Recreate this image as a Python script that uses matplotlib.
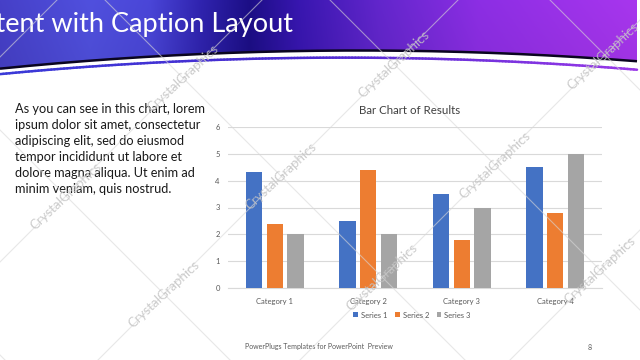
import matplotlib
matplotlib.use('Agg')
import matplotlib.pyplot as plt
import numpy as np
from matplotlib.patches import Polygon
from matplotlib.patches import Patch

# ---------------- data ----------------
categories = ['Category 1', 'Category 2', 'Category 3', 'Category 4']
series_names = ['Series 1', 'Series 2', 'Series 3']
series1 = [4.3, 2.5, 3.5, 4.5]
series2 = [2.4, 4.4, 1.8, 2.8]
series3 = [2.0, 2.0, 3.0, 5.0]
y_ticks = [0, 1, 2, 3, 4, 5, 6]
bar_colors = ['#4472C4', '#ED7D31', '#A5A5A5']
chart_title = 'Bar Chart of Results'
slide_title = 'Content with Caption Layout'
body_lines = ['As you can see in this chart, lorem',
              'ipsum dolor sit amet, consectetur',
              'adipiscing elit, sed do eiusmod',
              'tempor incididunt ut labore et',
              'dolore magna aliqua. Ut enim ad',
              'minim veniam, quis nostrud.']
footer_text = 'PowerPlugs Templates for PowerPoint  Preview'
page_number = '8'
watermark = 'CrystalGraphics'

FONT = 'Lato'
W, H = 640, 360

fig = plt.figure(figsize=(6.4, 3.6), dpi=100)
fig.patch.set_facecolor('white')

# background axes in pixel coordinates
bg = fig.add_axes([0, 0, 1, 1])
bg.set_xlim(0, W)
bg.set_ylim(H, 0)
bg.axis('off')

# ---------------- banner ----------------
def curve(x):
    return 50.5 + 1.4e-4 * (x - 360.0) ** 2

stops_x = [0, 90, 150, 200, 250, 300, 380, 480, 640]
stops_c = ['#4640c8', '#5050de', '#4a46d8', '#3024b0', '#1c0e86', '#3816b0', '#6226cc', '#8c2ee4', '#a836ee']
rgb = np.array([matplotlib.colors.to_rgb(c) for c in stops_c])
gx = np.arange(W)
grad = np.zeros((80, W, 3))
for k in range(3):
    grad[:, :, k] = np.interp(gx, stops_x, rgb[:, k])[None, :]
vy = np.linspace(1.0, 0.94, 80)[:, None, None]
grad = np.clip(grad * vy, 0, 1)
im = bg.imshow(grad, extent=(0, 637, 80, 0), aspect='auto', zorder=1, interpolation='bilinear')
xs = np.linspace(0, 637, 200)
poly = Polygon(np.vstack([[[0, 0], [637, 0]], np.column_stack([xs[::-1], curve(xs[::-1])])]),
               closed=True, transform=bg.transData, facecolor='none', edgecolor='none')
bg.add_patch(poly)
im.set_clip_path(poly)
bg.plot(xs, curve(xs), color='#0a0520', lw=1.8, zorder=2, solid_capstyle='butt')
off = curve(xs) + 5.5 + 3.0 * xs / 640
seg_cols = np.array([np.interp(xs, [0, 300, 640], [matplotlib.colors.to_rgb(c)[k] for c in ['#3a3ad8', '#4a2ad0', '#9a38e8']]) for k in range(3)]).T
for i in range(len(xs) - 1):
    bg.plot(xs[i:i + 2], off[i:i + 2], color=seg_cols[i], lw=1.8, zorder=2, solid_capstyle='round')

bg.text(293, 32, slide_title, ha='right', va='baseline', color='white', fontsize=19.5, family=FONT, zorder=3)

# ---------------- body text ----------------
for i, line in enumerate(body_lines):
    bg.text(15, 109 + 16 * i, line, ha='left', va='center', fontsize=9.2, family=FONT, color='#1a1a1a')

# footer
bg.text(245, 347, footer_text, ha='left', va='center', fontsize=5, family=FONT, color='#595959')
bg.text(588, 347, page_number, ha='left', va='center', fontsize=5, family=FONT, color='#595959')

# ---------------- chart ----------------
left, right, top, bottom = 228, 602, 126.7, 288.3
ax = fig.add_axes([left / W, (H - bottom) / H, (right - left) / W, (bottom - top) / H])
ax.set_facecolor('none')
x = np.arange(len(categories))
all_series = [series1, series2, series3]
offsets = [-0.223, 0.0, 0.223]
for vals, c, o, name in zip(all_series, bar_colors, offsets, series_names):
    ax.bar(x + o, vals, 0.176, color=c, zorder=3, label=name)
ax.set_xlim(-0.5, len(categories) - 0.5)
ax.set_ylim(0, 6)
ax.set_yticks(y_ticks)
ax.set_yticklabels([str(t) for t in y_ticks])
ax.set_xticks(x)
ax.set_xticklabels(categories)
ax.grid(axis='y', color='#d9d9d9', lw=0.8, zorder=0)
for s in ['top', 'right', 'left']:
    ax.spines[s].set_visible(False)
ax.spines['bottom'].set_color('#d9d9d9')
ax.spines['bottom'].set_linewidth(0.8)
ax.tick_params(axis='both', length=0, labelsize=5.5, colors='#595959')
ax.tick_params(axis='y', pad=6)
ax.tick_params(axis='x', pad=7)
for lab in ax.get_xticklabels() + ax.get_yticklabels():
    lab.set_family(FONT)

fig.text(410 / W, 1 - 110.7 / H, chart_title, ha='center', va='center', fontsize=8.3, family=FONT, color='#404040')

handles = [Patch(facecolor=c, edgecolor='none') for c in bar_colors]
leg = fig.legend(handles, series_names, loc='center', bbox_to_anchor=(412 / W, 1 - 315 / H), ncol=3,
                 frameon=False, handlelength=0.6, handleheight=0.6, handletextpad=0.4,
                 columnspacing=1.0, prop={'family': FONT, 'size': 5.5})
for t in leg.get_texts():
    t.set_color('#595959')

# ---------------- watermark overlay ----------------
ov = fig.add_axes([0, 0, 1, 1])
ov.set_xlim(0, W)
ov.set_ylim(H, 0)
ov.axis('off')
ov.patch.set_alpha(0)
u_lines = [57, 262, 458, 660, 870]
v_lines = [355, 130, -105, -330, -550]
xx = np.array([0, W])
for u in u_lines:
    ov.plot(xx, u - xx, color='#d8d8d8', lw=0.8, alpha=0.6, zorder=1)
for v in v_lines:
    ov.plot(xx, xx + v, color='#d8d8d8', lw=0.8, alpha=0.6, zorder=1)
wm_pos = [(66, 196), (183, 78), (164, 294), (281, 176), (394, 64), (382, 277), (495, 165), (603, 56), (600, 270)]
for (px, py) in wm_pos:
    ov.text(px, py, watermark, ha='center', va='center', rotation=43, rotation_mode='anchor',
            fontsize=9.5, family=FONT, color='#c4c4c4', alpha=0.85, zorder=2)

fig.savefig('out.png', dpi=100)
